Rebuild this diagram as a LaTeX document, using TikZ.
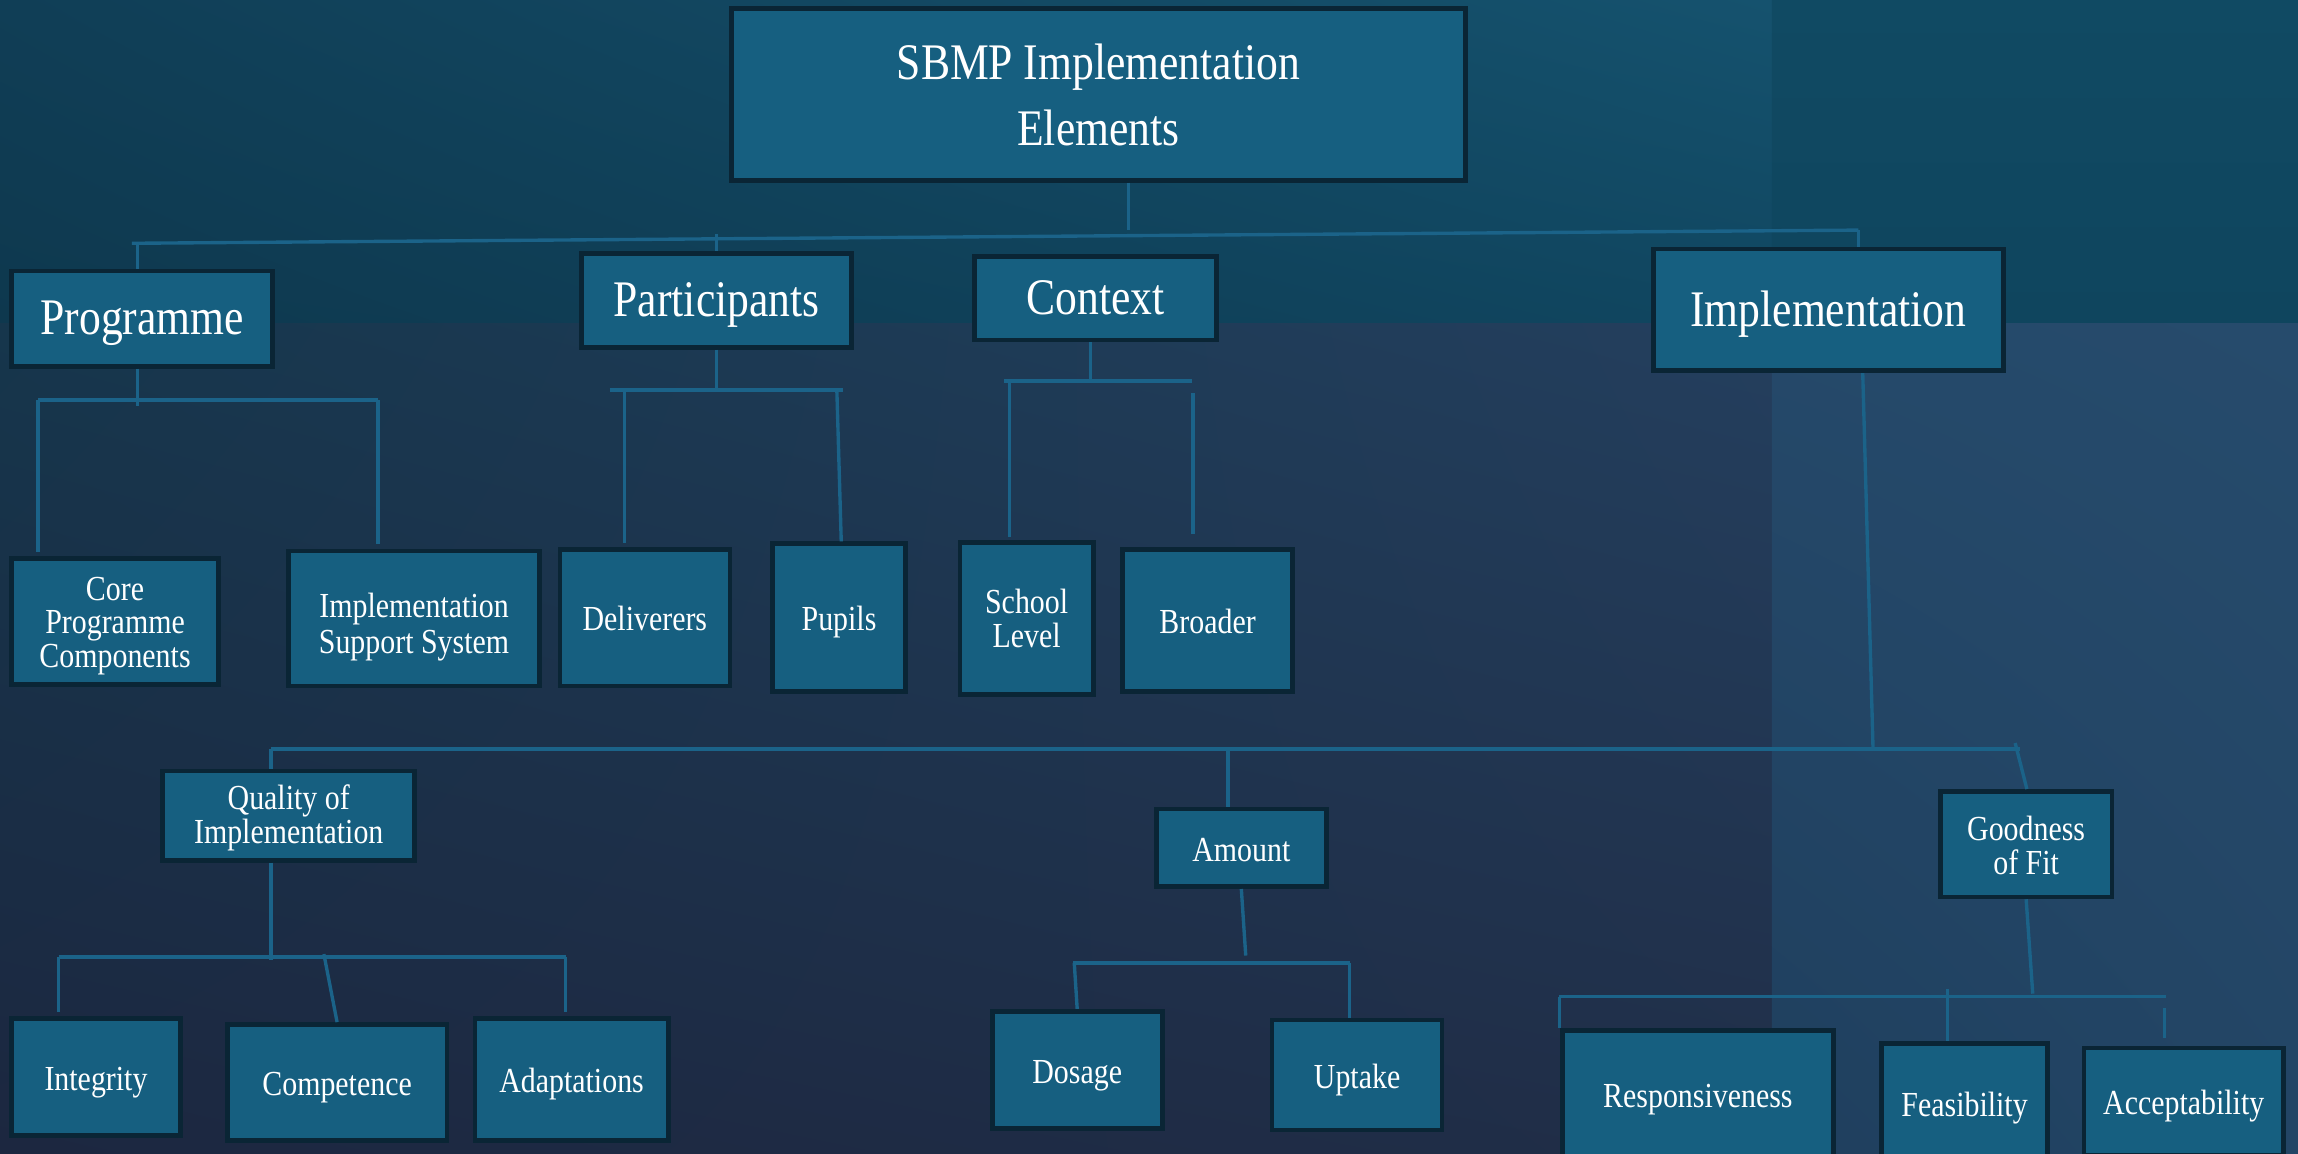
\documentclass[tikz,border=0pt]{standalone}
\usepackage{fontspec}
\usetikzlibrary{shadings}
\setmainfont[FakeStretch=0.85]{Liberation Serif}
\definecolor{boxfill}{HTML}{165F80}
\definecolor{boxline}{HTML}{0A2535}
\definecolor{conncol}{HTML}{1B6389}
\definecolor{tbUL}{RGB}{16,62,86}
\definecolor{tbUR}{RGB}{21,82,110}
\definecolor{tbLL}{RGB}{14,56,78}
\definecolor{tbLR}{RGB}{16,70,96}
\definecolor{trT}{RGB}{16,74,99}
\definecolor{trB}{RGB}{15,69,94}
\definecolor{lwUL}{RGB}{22,54,76}
\definecolor{lwUR}{RGB}{36,63,94}
\definecolor{lwLL}{RGB}{28,39,64}
\definecolor{lwLR}{RGB}{32,46,72}
\definecolor{rpUL}{RGB}{37,73,106}
\definecolor{rpUR}{RGB}{38,75,108}
\definecolor{rpLL}{RGB}{31,63,94}
\definecolor{rpLR}{RGB}{35,69,101}
\tikzset{
  box/.style={draw=boxline, line width=3.2pt, fill=boxfill, text=white, align=center, inner sep=0pt},
  bigtext/.style={font=\fontsize{35}{40}\selectfont, text height=28pt, text depth=6pt},
  smalltext/.style={font=\fontsize{24}{23}\selectfont, text height=22pt, text depth=4pt},
  conn/.style={draw=conncol, line width=2.3pt},
}
\begin{document}
\begin{tikzpicture}[x=1pt,y=-1pt]
\useasboundingbox (0,0) rectangle (1568,787);
% background
\shade[upper left=tbUL, upper right=tbUR, lower left=tbLL, lower right=tbLR] (0,0) rectangle (1209,221);
\shade[top color=trT, bottom color=trB] (1209,0) rectangle (1568,221);
\shade[upper left=lwUL, upper right=lwUR, lower left=lwLL, lower right=lwLR] (0,221) rectangle (1209,787);
\shade[upper left=rpUL, upper right=rpUR, lower left=rpLL, lower right=rpLR] (1209,221) rectangle (1568,787);

% nodes
\node[box, minimum width=501, minimum height=117, font=\fontsize{35}{45}\selectfont] (top) at (749.5,64.5) {SBMP Implementation\\Elements};
\node[box, bigtext, minimum width=178, minimum height=65] (prog) at (97,217.5) {Programme};
\node[box, bigtext, minimum width=184, minimum height=64] (part) at (489,205) {Participants};
\node[box, bigtext, minimum width=165, minimum height=57] (ctx) at (747.5,203.5) {Context};
\node[box, bigtext, minimum width=239, minimum height=83] (impl) at (1247.5,211.5) {Implementation};

\node[box, smalltext, text height=68pt, text depth=5pt, minimum width=141, minimum height=86] (core) at (78.5,424) {Core\\Programme\\Components};
\node[box, smalltext, font=\fontsize{24}{25}\selectfont, text height=53pt, text depth=5pt, minimum width=171, minimum height=92] (iss) at (282.5,422) {Implementation\\Support System};
\node[box, smalltext, minimum width=116, minimum height=93] (deliv) at (440,421.5) {Deliverers};
\node[box, smalltext, minimum width=91, minimum height=101] (pupils) at (572.5,421.5) {Pupils};
\node[box, smalltext, text height=39pt, text depth=0pt, minimum width=91, minimum height=104] (school) at (700.5,422) {School\\Level};
\node[box, smalltext, minimum width=116, minimum height=97] (broader) at (824,423.5) {Broader};

\node[box, smalltext, text height=43.3pt, text depth=5pt, minimum width=172, minimum height=61] (quality) at (197,556.5) {Quality of\\Implementation};
\node[box, smalltext, minimum width=116, minimum height=53] (amount) at (847,578.5) {Amount};
\node[box, smalltext, text height=41pt, text depth=0pt, minimum width=117, minimum height=72] (good) at (1382.5,576) {Goodness\\of Fit};

\node[box, smalltext, minimum width=115, minimum height=80] (integ) at (65.5,735) {Integrity};
\node[box, smalltext, minimum width=150, minimum height=79] (compet) at (230,738.5) {Competence};
\node[box, smalltext, minimum width=132, minimum height=83] (adapt) at (390,736.5) {Adaptations};
\node[box, smalltext, minimum width=116, minimum height=80] (dosage) at (735,730) {Dosage};
\node[box, smalltext, minimum width=116, minimum height=75] (uptake) at (926,733.5) {Uptake};
\node[box, smalltext, minimum width=185, minimum height=87] (resp) at (1158.5,746.5) {Responsiveness};
\node[box, smalltext, minimum width=113, minimum height=82] (feas) at (1340.5,753) {Feasibility};
\node[box, smalltext, minimum width=136, minimum height=73] (accept) at (1490,751.5) {Acceptability};

% bus coordinates
\coordinate (b0) at (770,157);
\coordinate (busL) at (90,166);
\coordinate (busR) at (1268,157);
\coordinate (pt) at (94,166);
\coordinate (pa) at (489,160);
\coordinate (pl) at (26,273);
\coordinate (pr) at (258,273);
\coordinate (pj) at (94,277);
\coordinate (qa) at (416,266);
\coordinate (qb) at (575,266);
\coordinate (ql) at (426,266);
\coordinate (qr) at (571,266);
\coordinate (ca) at (685,260);
\coordinate (cb) at (813,260);
\coordinate (cj) at (744,259);
\coordinate (cl) at (689,260);
\coordinate (cr) at (814,268);
\coordinate (ij) at (1278,510);
\coordinate (ia) at (185,511);
\coordinate (ib) at (1378,511);
\coordinate (iq) at (185,511);
\coordinate (iam) at (838,511);
\coordinate (ig) at (1375,507);
\coordinate (qj) at (185,655);
\coordinate (qla) at (40,653);
\coordinate (qlb) at (386,653);
\coordinate (qm) at (221,651);
\coordinate (aj) at (850,652);
\coordinate (ala) at (732,657);
\coordinate (alb) at (921,657);
\coordinate (al) at (733,657);
\coordinate (gj) at (1387,678);
\coordinate (gla) at (1064,680);
\coordinate (glb) at (1478,680);
\coordinate (gm) at (1329,675);
\coordinate (gr) at (1477,688);

% connectors
\draw[conn] (top.south -| b0) -- (b0);
\draw[conn] (busL) -- (busR);
\draw[conn] (pt) -- (pt |- prog.north);
\draw[conn] (pa) -- (part.north);
\draw[conn] (busR) -- (busR |- impl.north);

\draw[conn] (prog.south -| pj) -- (pj);
\draw[conn] (pl) -- (pr);
\draw[conn] (pl) -- ([yshift=3pt]pl |- core.north);
\draw[conn] (pr) -- ([yshift=3pt]pr |- iss.north);

\draw[conn] (part.south) -- (part.south |- qa);
\draw[conn] (qa) -- (qb);
\draw[conn] (ql) -- ([yshift=3pt]ql |- deliv.north);
\draw[conn] (qr) -- ([xshift=1.5pt]pupils.north);

\draw[conn] (ctx.south -| cj) -- (cj);
\draw[conn] (ca) -- (cb);
\draw[conn] (cl) -- ([yshift=2pt]cl |- school.north);
\draw[conn] (cr) -- ([yshift=9pt]cr |- broader.north);

\draw[conn] ([xshift=23.5pt]impl.south) -- (ij);
\draw[conn] (ia) -- (ib);
\draw[conn] (iq) -- (iq |- quality.north);
\draw[conn] (iam) -- (iam |- amount.north);
\draw[conn] (ig) -- ([xshift=0.5pt]good.north);

\draw[conn] (quality.south -| qj) -- (qj);
\draw[conn] (qla) -- (qlb);
\draw[conn] (qla) -- ([yshift=3pt]qla |- integ.north);
\draw[conn] (qm) -- (compet.north);
\draw[conn] (qlb) -- ([yshift=3pt]qlb |- adapt.north);

\draw[conn] (amount.south) -- (aj);
\draw[conn] (ala) -- (alb);
\draw[conn] (al) -- (dosage.north);
\draw[conn] (alb) -- (alb |- uptake.north);

\draw[conn] (good.south) -- (gj);
\draw[conn] (gla) -- (glb);
\draw[conn] (gla) -- (gla |- resp.north);
\draw[conn] (gm) -- (gm |- feas.north);
\draw[conn] (gr) -- ([yshift=5pt]gr |- accept.north);
\end{tikzpicture}
\end{document}
